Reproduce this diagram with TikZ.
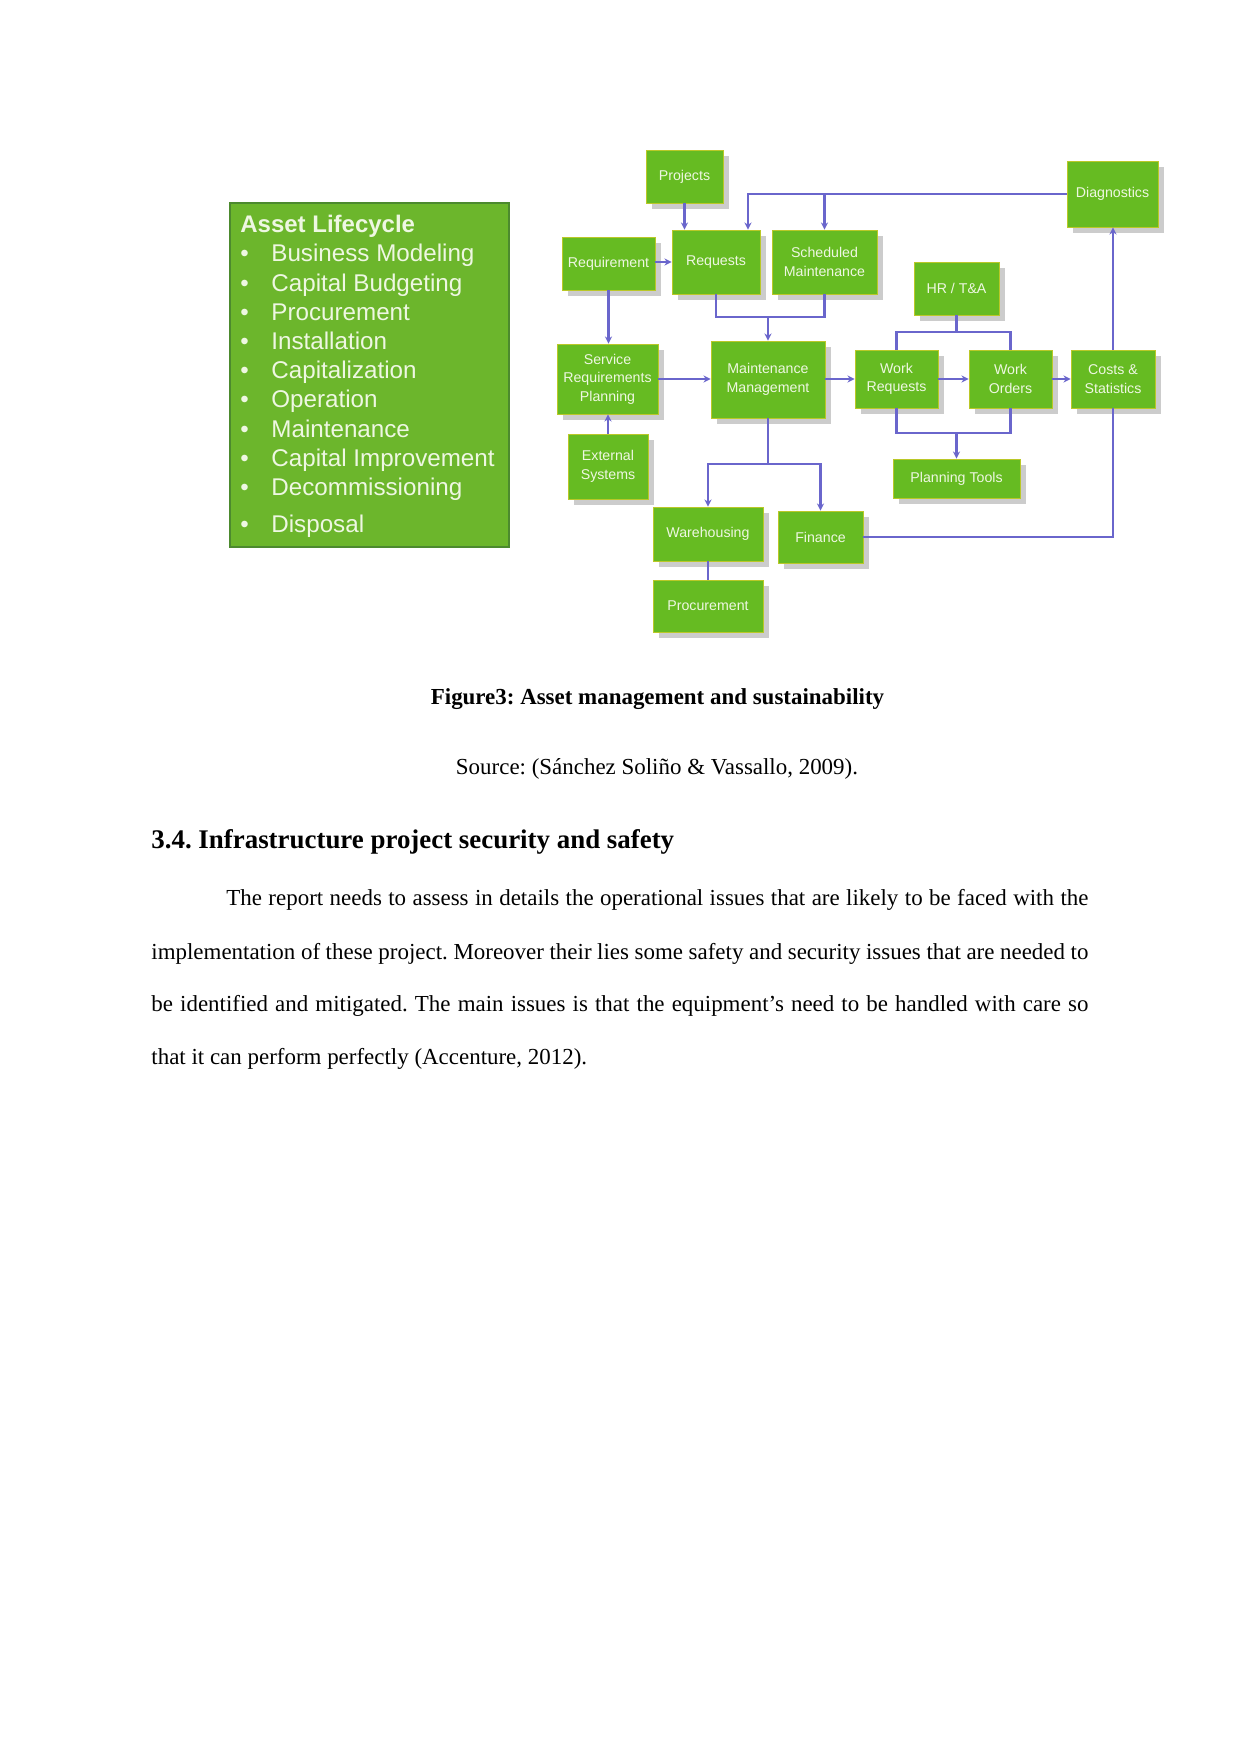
\documentclass[tikz,border=0pt]{standalone}
\usepackage{fontspec}
\setmainfont{Liberation Serif}
\setsansfont{Liberation Sans}
\usepackage{tikz}
\usetikzlibrary{arrows.meta,shadows}
\newlength\pxu
\setlength\pxu{0.4795pt}
\definecolor{boxgreen}{RGB}{102,187,34}
\definecolor{boxedge}{RGB}{186,200,40}
\definecolor{lifegreen}{RGB}{108,182,44}
\definecolor{lifeedge}{RGB}{76,138,46}
\definecolor{flowblue}{RGB}{106,102,204}
\definecolor{labeltext}{RGB}{238,247,226}
\newcommand\lifedot{\makebox[31\pxu][l]{\textbullet}}
\frenchspacing

\begin{document}
\begin{tikzpicture}[x=\pxu,y=-\pxu,
  boxsize/.style 2 args={minimum width=#1\pxu,minimum height=#2\pxu},
  box/.style={rectangle,draw=boxedge,line width=0.4pt,fill=boxgreen,text=labeltext,align=center,inner sep=1pt,
    font=\sffamily\fontsize{6.8}{8.8}\selectfont,
    drop shadow={shadow xshift=3pt,shadow yshift=-3pt,fill=black!20,opacity=1}},
  flow/.style={draw=flowblue,line width=1pt,-{Stealth[length=3.4pt,width=3.4pt]}},
  wire/.style={draw=flowblue,line width=1pt},
  lifeitem/.style={anchor=base west,inner sep=0,text=labeltext,font=\sffamily\fontsize{11.6}{13}\selectfont},
  bodyline/.style={anchor=base west,inner sep=0,font=\fontsize{11}{13}\selectfont}]
  \fill[white] (0,0) rectangle (1241,1754);
  \useasboundingbox (0,0) rectangle (1241,1754);

  % asset lifecycle panel
  \node[draw=lifeedge,line width=1.2pt,fill=lifegreen,boxsize={279}{344},inner sep=0] (life) at (369.5,375) {};
  \node[lifeitem,font=\sffamily\bfseries\fontsize{11.5}{13}\selectfont] (lifetitle) at (240,233) {Asset Lifecycle};
  \node[lifeitem] (life1) at (240,262) {\lifedot Business Modeling};
  \node[lifeitem] (life2) at (240,292) {\lifedot Capital Budgeting};
  \node[lifeitem] (life3) at (240,321) {\lifedot Procurement};
  \node[lifeitem] (life4) at (240,350) {\lifedot Installation};
  \node[lifeitem] (life5) at (240,379) {\lifedot Capitalization};
  \node[lifeitem] (life6) at (240,408) {\lifedot Operation};
  \node[lifeitem] (life7) at (240,437) {\lifedot Maintenance};
  \node[lifeitem] (life8) at (240,466) {\lifedot Capital Improvement};
  \node[lifeitem] (life9) at (240,496) {\lifedot Decommissioning};
  \node[lifeitem] (life10) at (240,532) {\lifedot Disposal};

  % flow chart boxes
  \node[box,boxsize={77}{53}] (proj) at (684.5,176.5) {Projects};
  \node[box,boxsize={93}{53}] (reqm) at (608.5,263.5) {Requirement};
  \node[box,boxsize={88}{64}] (reqs) at (716,262) {Requests};
  \node[box,boxsize={105}{64}] (sched) at (824.5,262) {Scheduled\\Maintenance};
  \node[box,boxsize={91}{66}] (diag) at (1112.5,194) {Diagnostics};
  \node[box,boxsize={85}{53}] (hrta) at (956.5,288.5) {HR / T\&A};
  \node[box,boxsize={101}{70}] (srp) at (607.5,379) {Service\\Requirements\\Planning};
  \node[box,boxsize={114}{77}] (mm) at (768,379.5) {Maintenance\\Management};
  \node[box,boxsize={83}{58}] (wreq) at (896.5,379) {Work\\Requests};
  \node[box,boxsize={83}{58}] (word) at (1010.5,379) {Work\\Orders};
  \node[box,boxsize={84}{58}] (cost) at (1113,379) {Costs \&\\Statistics};
  \node[box,boxsize={80}{65}] (ext) at (608,466.5) {External\\Systems};
  \node[box,boxsize={127}{39}] (plan) at (956.5,478.5) {Planning Tools};
  \node[box,boxsize={110}{54}] (ware) at (708,534) {Warehousing};
  \node[box,boxsize={85}{52}] (fin) at (820.5,537) {Finance};
  \node[box,boxsize={110}{52}] (proc) at (708,606) {Procurement};

  % junctions
  \coordinate (jreq) at (768,317);
  \coordinate (jhr) at (956.5,332);
  \coordinate (jwork) at (956.5,433);
  \coordinate (jmm) at (768,464);

  % connectors
  \draw[flow] (proj) -- (proj |- reqs.north);
  \draw[flow] (diag.west) -| ([xshift=32\pxu]reqs.north);
  \draw[flow] (sched.north |- diag.west) -- (sched.north);
  \draw[flow] (reqm.east |- reqs.west) -- (reqs.west);
  \draw[wire] (reqs.south) |- (jreq) -| (sched.south);
  \draw[flow] (jreq) -- (mm.north);
  \draw[flow] (reqm.south) -- (reqm.south |- srp.north);
  \draw[flow] (ext.north) -- (ext.north |- srp.south);
  \draw[flow] (srp.east) -- (srp.east -| mm.west);
  \draw[flow] (mm.east |- wreq.west) -- (wreq.west);
  \draw[flow] (wreq) -- (word);
  \draw[flow] (word) -- (cost);
  \draw[flow] (cost) -- (cost |- diag.south);
  \draw[wire] (hrta) -- (jhr);
  \draw[wire] (wreq.north) |- (jhr) -| (word.north);
  \draw[wire] (wreq.south) |- (jwork) -| (word.south);
  \draw[flow] (jwork) -- (plan.north);
  \draw[wire] (mm) -- (jmm);
  \draw[flow] (jmm) -| (ware.north);
  \draw[flow] (jmm) -| (fin.north);
  \draw[wire] (ware) -- (proc);
  \draw[wire] (fin.east) -| (cost.south);

  % caption and text
  \node[anchor=base,inner sep=0,font=\bfseries\fontsize{11}{13}\selectfont] (caption) at (657.5,704) {Figure3: Asset management and sustainability};
  \node[anchor=base,inner sep=0,font=\fontsize{11}{13}\selectfont] (source) at (657,774) {Source: (Sánchez Soliño \& Vassallo, 2009).};
  \node[anchor=base west,inner sep=0,font=\bfseries\fontsize{12.9}{15}\selectfont] (heading) at (151,848) {3.4. Infrastructure project security and safety};
  \node[bodyline] (para1) at (226,905) {\makebox[862\pxu][s]{The report needs to assess in details the operational issues that are likely to be faced with the}};
  \node[bodyline] (para2) at (151,959) {\makebox[937\pxu][s]{implementation of these project. Moreover their lies some safety and security issues that are needed to}};
  \node[bodyline] (para3) at (151,1011) {\makebox[937\pxu][s]{be identified and mitigated. The main issues is that the equipment’s need to be handled with care so}};
  \node[bodyline] (para4) at (151,1064) {that it can perform perfectly (Accenture, 2012).};
\end{tikzpicture}
\end{document}
